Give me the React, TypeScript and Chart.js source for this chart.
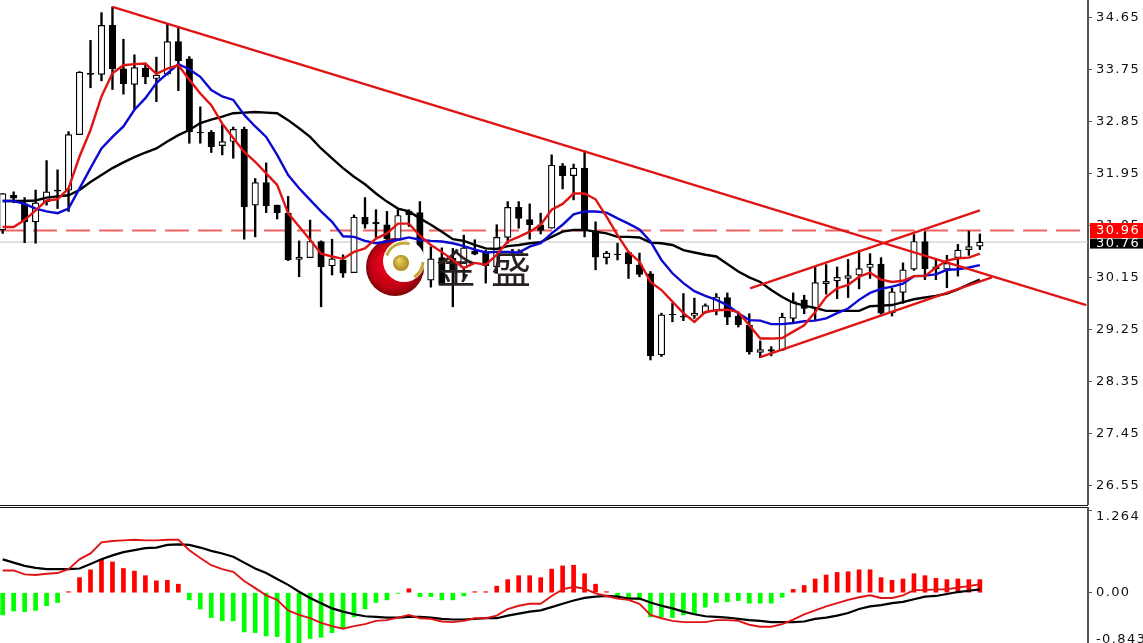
import React, { useEffect, useRef } from "react";
import { Chart, registerables } from "chart.js";

Chart.register(...registerables);

const opens = [30.97,31.57,31.42,31.11,31.46,31.66,31.66,32.62,33.68,33.66,34.51,33.76,33.49,33.77,33.59,33.67,34.23,33.93,32.66,32.66,32.43,32.50,32.71,31.40,31.79,31.40,31.26,30.46,30.49,30.77,30.35,30.45,30.23,31.19,31.10,31.06,30.80,31.29,31.27,30.10,30.49,30.48,30.32,30.60,30.58,30.33,30.84,31.36,31.15,31.06,31.00,32.08,31.91,32.04,30.94,30.49,30.55,30.58,30.36,30.21,28.81,29.51,29.48,29.49,29.54,29.58,29.80,29.48,29.32,28.85,28.90,28.89,29.44,29.76,29.61,30.04,30.09,30.13,30.19,30.32,30.38,29.54,29.89,30.29,30.77,30.33,30.29,30.49,30.63,30.69];
const highs = [31.60,31.63,31.53,31.66,32.17,32.01,32.67,33.71,34.25,34.73,34.83,34.27,34.00,33.82,33.96,34.53,34.49,33.97,33.10,32.69,32.79,32.75,32.75,31.86,32.13,31.40,31.55,30.78,31.14,30.78,30.81,30.54,31.23,31.53,31.32,31.29,31.32,31.32,31.46,30.68,30.66,30.65,30.88,30.80,30.62,31.06,31.46,31.46,31.42,31.26,32.27,32.12,32.11,32.34,31.11,30.60,30.74,30.60,30.57,30.25,29.53,29.70,29.87,29.79,29.69,29.87,29.88,29.53,29.52,29.05,28.95,29.53,29.88,29.84,30.34,30.37,30.33,30.46,30.62,30.56,30.49,29.96,30.40,30.89,30.94,30.45,30.53,30.72,30.95,30.90];
const lows = [30.91,31.44,30.75,30.74,31.40,31.34,31.29,32.62,33.43,33.55,33.40,33.32,33.05,33.50,33.19,33.65,33.38,32.47,32.47,32.31,32.27,32.21,30.81,30.85,31.27,31.16,30.44,30.16,30.49,29.64,30.19,30.15,30.23,31.00,30.84,30.71,30.62,31.03,30.10,29.98,30.02,29.64,30.10,30.54,30.05,30.22,30.74,31.00,30.81,30.90,31.00,31.68,31.49,30.85,30.28,30.38,30.45,30.13,30.16,28.72,28.78,29.38,29.40,29.44,29.53,29.50,29.33,29.29,28.82,28.76,28.79,28.88,29.38,29.52,29.41,29.86,29.78,29.80,29.95,30.13,29.51,29.48,29.70,30.27,30.11,30.11,29.97,30.17,30.53,30.63];
const closes = [31.60,31.52,31.11,31.44,31.63,31.64,32.62,33.70,33.66,34.51,33.76,33.50,33.78,33.62,33.65,34.23,33.90,32.67,32.65,32.41,32.50,32.71,31.37,31.79,31.39,31.27,30.45,30.50,30.77,30.33,30.47,30.22,31.19,31.07,31.08,30.82,31.22,31.23,30.20,30.47,30.03,30.28,30.66,30.55,30.35,30.84,31.36,31.17,31.06,30.96,32.09,31.91,32.04,30.96,30.50,30.57,30.54,30.38,30.20,28.79,29.50,29.50,29.46,29.53,29.66,29.81,29.46,29.33,28.86,28.90,28.87,29.46,29.73,29.61,30.06,30.08,30.15,30.18,30.30,30.38,29.53,29.90,30.28,30.77,30.30,30.30,30.39,30.62,30.68,30.76];

const fastMA = [31.02,31.02,31.14,31.31,31.48,31.50,31.69,32.24,32.70,33.28,33.68,33.82,33.84,33.85,33.67,33.76,33.82,33.57,33.33,33.13,32.81,32.56,32.32,32.15,31.95,31.75,31.26,31.03,30.80,30.56,30.51,30.47,30.59,30.65,30.82,30.91,31.08,31.08,30.87,30.71,30.59,30.45,30.31,30.40,30.37,30.54,30.77,30.85,30.94,31.06,31.32,31.42,31.60,31.60,31.50,31.20,30.88,30.59,30.42,30.07,29.93,29.73,29.53,29.38,29.55,29.58,29.59,29.55,29.32,29.09,29.09,29.10,29.21,29.32,29.55,29.81,29.96,30.02,30.16,30.23,30.11,30.07,30.09,30.17,30.17,30.32,30.44,30.48,30.49,30.56];
const midMA = [31.47,31.47,31.42,31.34,31.29,31.26,31.34,31.69,32.04,32.38,32.58,32.76,33.05,33.25,33.51,33.68,33.84,33.75,33.62,33.39,33.28,33.22,32.96,32.76,32.58,32.27,31.92,31.69,31.49,31.29,31.11,30.86,30.85,30.78,30.74,30.77,30.80,30.84,30.80,30.78,30.77,30.74,30.69,30.63,30.58,30.59,30.59,30.58,30.68,30.74,30.91,31.06,31.24,31.29,31.29,31.27,31.17,31.08,30.98,30.77,30.45,30.22,30.05,29.91,29.83,29.76,29.67,29.53,29.41,29.40,29.34,29.34,29.36,29.39,29.40,29.44,29.53,29.61,29.76,29.88,29.95,29.99,30.04,30.17,30.18,30.20,30.28,30.29,30.32,30.36];
const slowMA = [31.47,31.47,31.47,31.48,31.53,31.55,31.57,31.66,31.80,31.92,32.04,32.14,32.23,32.31,32.38,32.50,32.61,32.70,32.82,32.88,32.93,32.99,33.00,33.01,33.00,32.99,32.87,32.73,32.58,32.38,32.21,32.04,31.89,31.76,31.60,31.46,31.34,31.29,31.17,31.06,30.94,30.81,30.78,30.71,30.65,30.64,30.69,30.71,30.74,30.76,30.85,30.94,30.97,30.97,30.94,30.91,30.85,30.85,30.84,30.75,30.74,30.71,30.62,30.58,30.54,30.51,30.38,30.25,30.15,30.07,29.93,29.81,29.71,29.66,29.62,29.57,29.57,29.57,29.57,29.65,29.66,29.67,29.72,29.77,29.80,29.83,29.87,29.94,30.03,30.11];

const macdHist = [-0.34,-0.28,-0.29,-0.27,-0.20,-0.15,0.015,0.23,0.35,0.51,0.47,0.37,0.33,0.26,0.18,0.19,0.13,-0.11,-0.25,-0.38,-0.43,-0.43,-0.60,-0.61,-0.66,-0.67,-0.80,-0.80,-0.70,-0.68,-0.61,-0.55,-0.37,-0.25,-0.15,-0.11,-0.01,0.06,-0.06,-0.06,-0.11,-0.11,-0.05,0.015,0.015,0.10,0.20,0.26,0.26,0.23,0.36,0.41,0.42,0.29,0.13,0.015,-0.06,-0.08,-0.11,-0.37,-0.37,-0.38,-0.34,-0.32,-0.22,-0.15,-0.14,-0.12,-0.16,-0.16,-0.16,-0.07,0.05,0.11,0.21,0.27,0.31,0.32,0.35,0.35,0.23,0.19,0.21,0.29,0.26,0.22,0.20,0.21,0.20,0.20];
const macdMain = [0.34,0.34,0.28,0.27,0.29,0.30,0.36,0.51,0.60,0.77,0.79,0.80,0.81,0.80,0.80,0.81,0.81,0.65,0.53,0.42,0.36,0.32,0.18,0.07,-0.04,-0.11,-0.27,-0.34,-0.39,-0.46,-0.51,-0.55,-0.51,-0.48,-0.43,-0.42,-0.38,-0.34,-0.39,-0.40,-0.44,-0.45,-0.43,-0.39,-0.39,-0.35,-0.25,-0.20,-0.17,-0.17,-0.05,0.05,0.09,0.06,-0.01,-0.05,-0.09,-0.11,-0.17,-0.34,-0.39,-0.43,-0.45,-0.45,-0.45,-0.42,-0.42,-0.43,-0.49,-0.52,-0.52,-0.48,-0.41,-0.33,-0.27,-0.21,-0.16,-0.11,-0.07,-0.04,-0.08,-0.08,-0.04,0.04,0.04,0.05,0.05,0.08,0.10,0.13];
const macdSignal = [0.51,0.46,0.41,0.38,0.36,0.36,0.36,0.37,0.44,0.51,0.57,0.62,0.65,0.68,0.69,0.73,0.74,0.73,0.69,0.64,0.60,0.55,0.46,0.37,0.30,0.21,0.12,0.015,-0.08,-0.16,-0.24,-0.29,-0.33,-0.36,-0.37,-0.38,-0.38,-0.37,-0.37,-0.38,-0.40,-0.41,-0.41,-0.40,-0.39,-0.39,-0.35,-0.32,-0.29,-0.27,-0.22,-0.17,-0.12,-0.08,-0.06,-0.05,-0.06,-0.09,-0.09,-0.15,-0.20,-0.24,-0.29,-0.33,-0.36,-0.37,-0.38,-0.40,-0.42,-0.43,-0.45,-0.45,-0.45,-0.44,-0.40,-0.38,-0.35,-0.31,-0.25,-0.21,-0.19,-0.16,-0.14,-0.10,-0.06,-0.05,-0.02,0.01,0.03,0.05];

const priceTicks = [34.65,33.75,32.85,31.95,31.05,30.15,29.25,28.35,27.45,26.55];
const macdTickMarks = [1.264,0];
const macdLabels = ["1.264","0.00","-0.843"];
const macdLabelValues = [1.264,0,-0.843];

const resistance = [{x:10,y:34.83},{x:98.7,y:29.67}];
const channelTop = [{x:68.07,y:29.96},{x:89,y:31.31}];
const channelBottom = [{x:69,y:28.77},{x:90.1,y:30.15}];

const askPrice = 30.96;
const lastPrice = 30.76;
const xMin = -0.243;
const xMax = 98.85;
const priceMin = 26.21;
const priceMax = 34.949;
const macdMin = -0.769;
const macdMax = 1.31;

const AXIS_COLOR = "#555555";
const LABEL_FONT = "13px 'DejaVu Sans'";

const xy = (arr: number[]) => arr.map((y, x) => ({ x, y }));
const fixAxis = (s: any) => { s.width = 55; s.paddingTop = 0; s.paddingBottom = 0; };

function drawLogo(ctx: CanvasRenderingContext2D) {
  ctx.save();
  ctx.letterSpacing = "0px";
  const g = ctx.createRadialGradient(388, 262, 8, 395, 267, 29);
  g.addColorStop(0, "#e4001c");
  g.addColorStop(0.7, "#c00012");
  g.addColorStop(1, "#7a0808");
  ctx.fillStyle = g;
  ctx.beginPath(); ctx.arc(395, 267, 29, 0, Math.PI * 2); ctx.fill();
  ctx.fillStyle = "#ffffff";
  ctx.beginPath(); ctx.arc(404, 261, 21, 0, Math.PI * 2); ctx.fill();
  const b = ctx.createRadialGradient(399, 260, 1, 401, 263, 8);
  b.addColorStop(0, "#e8d060");
  b.addColorStop(1, "#a88a18");
  ctx.fillStyle = b;
  ctx.beginPath(); ctx.arc(401, 263, 8, 0, Math.PI * 2); ctx.fill();
  ctx.strokeStyle = "#c4a838"; ctx.lineWidth = 3;
  ctx.beginPath(); ctx.arc(404, 261, 18, Math.PI * 1.1, Math.PI * 1.6); ctx.stroke();
  ctx.beginPath(); ctx.arc(404, 261, 19, Math.PI * 0.02, Math.PI * 0.32); ctx.stroke();
  ctx.fillStyle = "#2a2020";
  ctx.font = "400 40px 'Noto Sans CJK SC'";
  ctx.textBaseline = "middle"; ctx.textAlign = "left";
  ctx.fillText("金", 436, 268);
  ctx.fillText("盛", 491, 268);
  ctx.restore();
}

function priceTag(ctx: CanvasRenderingContext2D, y: number, h: number, dy: number, fill: string, text: string) {
  ctx.fillStyle = fill;
  ctx.fillRect(1090, y - h / 2, 53, h);
  ctx.fillStyle = "#ffffff";
  ctx.font = LABEL_FONT;
  ctx.textBaseline = "middle"; ctx.textAlign = "left";
  ctx.fillText(text, 1096, y + dy);
}

const pricePlugin = {
  id: "pricePane",
  beforeDraw(chart: any) { chart.ctx.letterSpacing = "1.4px"; },
  afterDatasetDraw(chart: any, args: any) {
    if (args.index === 1) drawLogo(chart.ctx);
  },
  afterDraw(chart: any) {
    const ctx = chart.ctx;
    const sc = chart.scales.y;
    ctx.save();
    priceTag(ctx, sc.getPixelForValue(lastPrice) + 1.5, 10, 0.5, "#000000", lastPrice.toFixed(2));
    priceTag(ctx, sc.getPixelForValue(askPrice), 15, 0, "#ff0000", askPrice.toFixed(2));
    ctx.restore();
  },
};

const macdPlugin = {
  id: "macdPane",
  afterDraw(chart: any) {
    const ctx = chart.ctx;
    const sc = chart.scales.y;
    ctx.save();
    ctx.letterSpacing = "1.4px";
    ctx.fillStyle = "#111111";
    ctx.font = LABEL_FONT;
    ctx.textBaseline = "middle"; ctx.textAlign = "left";
    macdLabels.forEach((t, i) => {
      const y = Math.min(Math.max(sc.getPixelForValue(macdLabelValues[i]), 10), chart.height - 3);
      ctx.fillText(t, 1096, y);
    });
    ctx.restore();
  },
};

const sharedX = { type: "linear" as const, min: xMin, max: xMax, display: false, offset: false };

export default function App() {
  const topRef = useRef<HTMLCanvasElement>(null);
  const botRef = useRef<HTMLCanvasElement>(null);

  useEffect(() => {
    const line = (data: any[], color: string, width: number, order: number, extra: any = {}) => ({
      type: "line" as const, data, borderColor: color, borderWidth: width, pointRadius: 0, tension: 0, order, ...extra,
    });
    const top = new Chart(topRef.current!, {
      type: "bar",
      data: {
        datasets: [
          {
            data: highs.map((h, x) => ({ x, y: [lows[x], h] })) as any,
            backgroundColor: "#000000", barThickness: 1.7, grouped: false, order: 6,
          },
          {
            data: opens.map((o, x) => ({ x, y: [o, closes[x]] })) as any,
            backgroundColor: opens.map((o, i) => (closes[i] > o ? "#ffffff" : "#000000")),
            borderColor: "#000000", borderWidth: 1.2, borderSkipped: false, barThickness: 6.5, grouped: false, order: 5,
          },
          line([{ x: xMin, y: lastPrice }, { x: xMax, y: lastPrice }], "#c4c4c4", 1, 8),
          line([{ x: xMin, y: askPrice }, { x: xMax, y: askPrice }], "#f06464", 1.8, 7, { borderDash: [24, 9] }),
          line(xy(slowMA), "#000000", 2.4, 3),
          line(xy(midMA), "#0a0ad2", 2.4, 2),
          line(xy(fastMA), "#e01414", 2.4, 1),
          line(resistance, "#e01414", 2.3, 0),
          line(channelTop, "#e01414", 2.3, 0),
          line(channelBottom, "#e01414", 2.3, 0),
        ] as any,
      },
      options: {
        animation: false, responsive: false, events: [],
        layout: { padding: 0 },
        plugins: { legend: { display: false }, tooltip: { enabled: false } },
        scales: {
          x: sharedX,
          y: {
            position: "right", min: priceMin, max: priceMax,
            afterBuildTicks: (s: any) => { s.ticks = priceTicks.map((value) => ({ value })); },
            afterFit: fixAxis,
            grid: { drawOnChartArea: false, drawTicks: true, tickLength: 4, color: AXIS_COLOR },
            border: { display: true, color: AXIS_COLOR, width: 2 },
            ticks: {
              color: "#111111", padding: 4, autoSkip: false, maxRotation: 0,
              font: { family: "'DejaVu Sans'", size: 13 },
              callback: (v: any) => Number(v).toFixed(2),
            },
          },
        },
      } as any,
      plugins: [pricePlugin],
    });

    const bottom = new Chart(botRef.current!, {
      type: "bar",
      data: {
        datasets: [
          {
            data: xy(macdHist) as any,
            backgroundColor: macdHist.map((v) => (v >= 0 ? "#ff0000" : "#00ff00")),
            barThickness: 4, borderWidth: 0, order: 5,
          },
          line(xy(macdSignal), "#000000", 2.2, 2),
          line(xy(macdMain), "#e01414", 1.9, 1),
        ] as any,
      },
      options: {
        animation: false, responsive: false, events: [],
        layout: { padding: 0 },
        plugins: { legend: { display: false }, tooltip: { enabled: false } },
        scales: {
          x: sharedX,
          y: {
            position: "right", min: macdMin, max: macdMax,
            afterBuildTicks: (s: any) => { s.ticks = macdTickMarks.map((value) => ({ value })); },
            afterFit: fixAxis,
            grid: { drawOnChartArea: false, drawTicks: true, tickLength: 4, color: AXIS_COLOR },
            border: { display: true, color: AXIS_COLOR, width: 2 },
            ticks: { display: false },
          },
        },
      } as any,
      plugins: [macdPlugin],
    });

    return () => { top.destroy(); bottom.destroy(); };
  }, []);

  return (
    <div style={{ position: "fixed", left: 0, top: 0, width: 1143, height: 643, overflow: "hidden", background: "#ffffff" }}>
      <canvas ref={topRef} width={1143} height={505} style={{ position: "absolute", left: 0, top: 0, display: "block" }} />
      <div style={{ position: "absolute", left: 0, top: 505, width: 1088, height: 1, background: "#111111" }} />
      <div style={{ position: "absolute", left: 0, top: 507, width: 1088, height: 1, background: "#111111" }} />
      <canvas ref={botRef} width={1143} height={136} style={{ position: "absolute", left: 0, top: 507, display: "block" }} />
    </div>
  );
}
